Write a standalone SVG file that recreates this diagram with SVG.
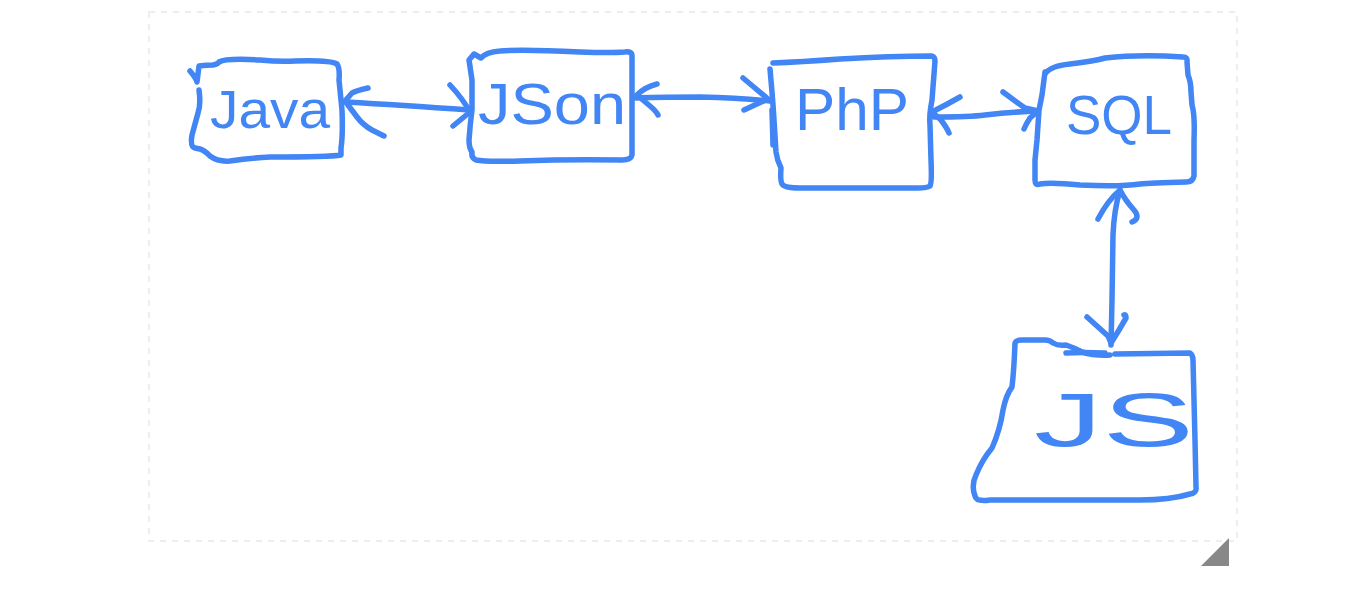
<svg xmlns="http://www.w3.org/2000/svg" width="1366" height="597" viewBox="0 0 1366 597">
<style>
.ink{fill:none;stroke:#4285f4;stroke-width:5.5;stroke-linecap:round;stroke-linejoin:round}
.lbl{fill:#4285f4;font-family:"Liberation Sans",Arial,sans-serif}
</style>
<rect width="1366" height="597" fill="#ffffff"/>
<rect x="149" y="12" width="1088" height="529" fill="none" stroke="#eceef0" stroke-width="2" stroke-dasharray="6 6"/>
<polygon points="1201,566 1229,538 1229,566" fill="#888888"/>
<g id="java">
<path class="ink" d="M190,71 Q196,78 197,82 L199,66 Q206,65 213,65 Q218,64 219,62 Q226,58 260,60 Q280,62 295,61 Q330,60 337,64 Q340,68 339,80 L342,110 Q343,135 341,148 L341,155 Q330,157 270,157 Q250,158 230,161 Q218,162 210,156 Q204,150 200,149 L195,148 Q190,147 192,135 L198,113 Q201,105 199,90"/>
<text class="lbl" x="210" y="128" font-size="54" textLength="120" lengthAdjust="spacingAndGlyphs">Java</text>
</g>
<g id="json">
<path class="ink" d="M474,54 L481,58 Q486,52 500,51 Q520,49 580,52 Q610,53 625,52 Q632,51 632,56 L632,110 L632,155 Q631,160 622,160 Q570,159 520,161 Q485,162 476,160 Q471,158 472,152 Q469,148 469,140 Q470,125 472,110 L472,80 L469,60 Z"/>
<text class="lbl" x="478" y="124" font-size="58" textLength="148" lengthAdjust="spacingAndGlyphs">JSon</text>
</g>
<g id="php">
<path class="ink" d="M773,63 Q800,62 840,59 Q890,56 932,56 Q935,57 935,61 L932,100 Q929,115 930,125 L931,160 Q932,183 930,186 Q927,188 918,188 L800,188 Q784,188 782,184 Q780,180 781,168 Q777,160 776,152 L774,120 L773,105 L772,92 L770,69"/>
<path class="ink" d="M772,110 L773,145" stroke-width="7"/>
<text class="lbl" x="795" y="130" font-size="60" textLength="114" lengthAdjust="spacingAndGlyphs">PhP</text>
</g>
<g id="sql">
<path class="ink" d="M1045,74 Q1050,66 1070,64 Q1095,61 1105,58 Q1140,54 1183,57 Q1188,57 1187,62 L1188,75 Q1191,82 1191,92 L1192,105 Q1195,115 1194,140 L1194,176 Q1193,182 1186,182 Q1150,183 1140,184 Q1120,187 1080,185 Q1050,182 1040,184 Q1035,186 1035,180 L1035,160 L1037,140 L1039,110 L1042,95 L1045,72"/>
<text class="lbl" x="1066" y="134" font-size="56" textLength="106" lengthAdjust="spacingAndGlyphs">SQL</text>
</g>
<g id="js">
<path class="ink" d="M1115,354 L1190,353 Q1193,355 1193,360 L1195,440 L1196,487 Q1197,493 1190,494 Q1170,500 1140,500 L990,500 Q976,502 975,496 Q971,485 976,475 Q982,460 992,448 Q1000,430 1003,410 Q1006,395 1012,387 Q1014,370 1015,343 Q1016,340 1022,340 L1045,340 Q1050,340 1053,343 Q1058,346 1066,345 Q1075,348 1082,352 Q1095,356 1110,355"/>
<path class="ink" d="M1066,353 Q1080,352 1105,353"/>
<text class="lbl" x="1034" y="446" font-size="76" textLength="160" lengthAdjust="spacingAndGlyphs">JS</text>
</g>
<g id="connectors">
<path class="ink" d="M346,102 Q400,105 470,110"/>
<path class="ink" d="M368,88 Q355,91 352,93 L345,101 L357,117 Q363,125 372,130 L384,136"/>
<path class="ink" d="M450,85 Q463,99 470,112 L453,126"/>
<path class="ink" d="M636,98 Q650,97 700,97 Q740,98 770,101"/>
<path class="ink" d="M657,84 Q645,87 637,95 L650,106 Q656,111 658,115"/>
<path class="ink" d="M743,78 Q755,88 768,99 L744,110"/>
<path class="ink" d="M934,117 Q970,117 985,115 Q1010,112 1038,111"/>
<path class="ink" d="M960,97 Q946,105 932,112 L941,120 Q947,128 949,133"/>
<path class="ink" d="M1003,92 Q1015,101 1025,108 L1038,111 L1030,118 Q1026,124 1024,129"/>
<path class="ink" d="M1120,190 Q1114,210 1113,235 L1112,300 L1111,345"/>
<path class="ink" d="M1098,219 Q1108,200 1120,190 Q1125,200 1134,210 Q1141,218 1132,222"/>
<path class="ink" d="M1087,317 L1108,336 L1111,343 L1119,330 L1126,318 Q1126,314 1124,315"/>
</g>
</svg>
